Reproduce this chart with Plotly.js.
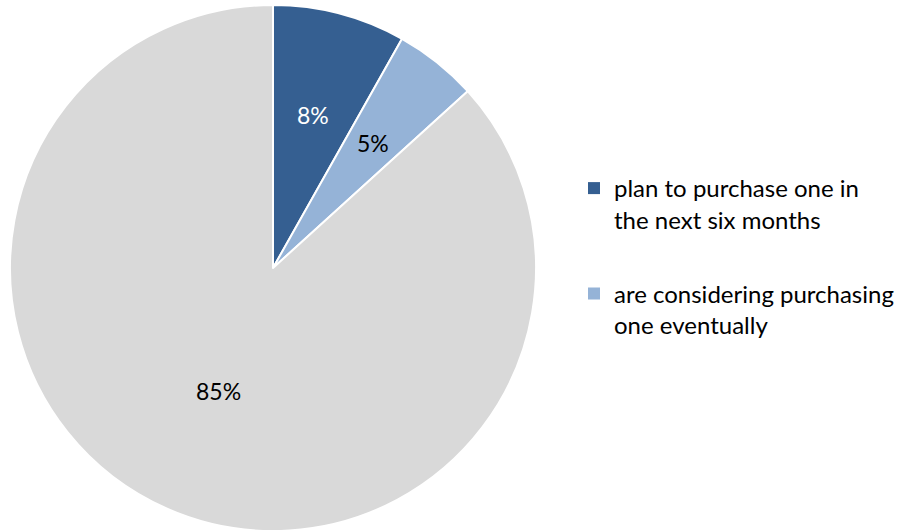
<!DOCTYPE html>
<html>
<head>
<meta charset="utf-8">
<script src="https://cdn.plot.ly/plotly-3.0.1.min.js"></script>
<style>html,body{margin:0;padding:0;background:#fff;}#chart{width:909px;height:531px;}</style>
</head>
<body>
<div id="chart"></div>
<script>
const categories = ["plan to purchase one in the next six months", "are considering purchasing one eventually", "other"];
const legendLabels = ["plan to purchase one in<br>the next six months", "are considering purchasing<br>one eventually"];
const values = [8, 5, 85];
const colors = ["#355F91", "#95B3D7", "#D9D9D9"];
const labelColors = ["#FFFFFF", "#000000", "#000000"];

const W = 909, H = 531;
const cx = 273, cy = 268, R = 263;
const FONT = "Lato, 'Liberation Sans', sans-serif";

const pie = {
  type: "pie",
  labels: categories,
  values: values,
  sort: false,
  direction: "clockwise",
  rotation: 0,
  marker: {colors: colors, line: {color: "#FFFFFF", width: 2}},
  textinfo: "none",
  hoverinfo: "label+value",
  showlegend: false,
  domain: {x: [(cx - R) / W, (cx + R) / W], y: [1 - (cy + R) / H, 1 - (cy - R) / H]}
};

const legendTraces = legendLabels.map((lab, i) => ({
  type: "scatter", mode: "markers", x: [null], y: [null],
  name: lab, legendgroup: "g" + i,
  marker: {symbol: "square", size: 12, color: colors[i]},
  showlegend: true, hoverinfo: "skip"
}));

// data labels along each slice bisector
const total = values.reduce((a, b) => a + b, 0);
const radFrac = [0.6, 0.61, 0.51];
let cum = 0;
const annotations = values.map((v, i) => {
  const mid = (cum + v / 2) / total * 2 * Math.PI;
  cum += v;
  const px = cx + Math.sin(mid) * R * radFrac[i];
  const py = cy - Math.cos(mid) * R * radFrac[i];
  return {
    xref: "paper", yref: "paper", x: px / W, y: 1 - py / H,
    text: v + "%", showarrow: false, xanchor: "center", yanchor: "middle",
    font: {family: FONT, size: 23, color: labelColors[i]}
  };
});

const layout = {
  width: W, height: H,
  margin: {l: 0, r: 0, t: 0, b: 0},
  paper_bgcolor: "#FFFFFF", plot_bgcolor: "#FFFFFF",
  xaxis: {visible: false}, yaxis: {visible: false},
  showlegend: true,
  legend: {
    x: 574 / W, y: 1 - 166 / H, xanchor: "left", yanchor: "top",
    font: {family: FONT, size: 24, color: "#000000"},
    valign: "top", tracegroupgap: 40, itemwidth: 30,
    bgcolor: "rgba(0,0,0,0)"
  },
  annotations: annotations
};

Plotly.newPlot("chart", [pie].concat(legendTraces), layout, {displayModeBar: false, staticPlot: true});
</script>
</body>
</html>
